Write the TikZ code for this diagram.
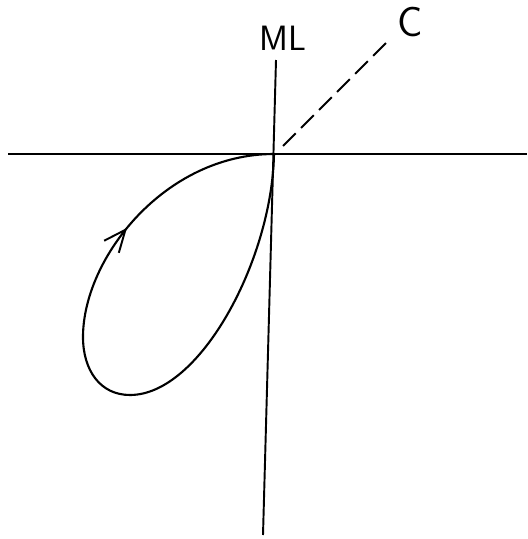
\documentclass[tikz,border=0pt]{standalone}
\usepackage{tikz}
\usetikzlibrary{positioning,arrows.meta,decorations.markings}
\tikzset{
  axis/.style={draw=black, line width=1.1pt},
  guide/.style={draw=black, line width=1.1pt, dash pattern=on 3.6mm off 1.5mm},
  orbit/.style={draw=black, line width=1.2pt,
                postaction={decorate, decoration={markings,
                  mark=at position -3.4cm with {\arrow{Straight Barb[length=4.4mm,width=3.8mm,line width=1.1pt]}}}}},
  lbl/.style={font=\sffamily\fontsize{20}{24}\selectfont, inner sep=0pt},
}
\begin{document}
\begin{tikzpicture}[x=0.2mm, y=-0.2mm]
  \useasboundingbox (0,0) rectangle (527,539);
  % axes
  \coordinate (o) at (274,154);
  \coordinate (west) at (8,154);
  \coordinate (east) at (527,154);
  \coordinate (north) at (276,60);
  \coordinate (south) at (263,535);
  \draw[axis] (west) -- (east);
  \draw[axis] (north) -- (south);
  % labels
  \node[lbl] (ml) at (283,38) {ML};
  \node[lbl, font=\sffamily\fontsize{24}{28}\selectfont] (c) at (410,22) {C};
  \coordinate (cstart) at (283,146);
  \coordinate (cend) at (388,41);
  \draw[guide] (cstart) -- (cend);
  % loop
  \coordinate (bottom) at (130,395);
  \coordinate (left) at (83,337);
  \draw[orbit] (o) .. controls (272,260) and (200,395) .. (bottom)
               .. controls (100,395) and (83,370) .. (left)
               .. controls (83,258) and (165,154) .. (o);
\end{tikzpicture}
\end{document}
